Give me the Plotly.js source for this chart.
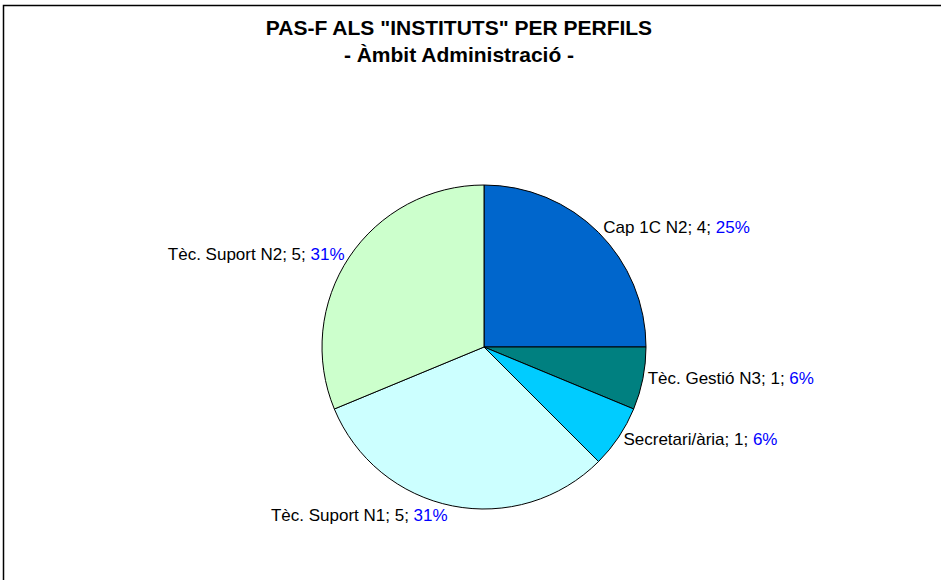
<!DOCTYPE html>
<html>
<head>
<meta charset="utf-8">
<script src="https://cdn.plot.ly/plotly-3.0.1.min.js"></script>
<style>html,body{margin:0;padding:0;background:#fff;}#chart{width:941px;height:580px;}</style>
</head>
<body>
<div id="chart"></div>
<script>
const categories = ["Cap 1C N2", "Tèc. Gestió N3", "Secretari/ària", "Tèc. Suport N1", "Tèc. Suport N2"];
const values = [4, 1, 1, 5, 5];
const colors = ["#0066CC", "#008080", "#00CCFF", "#CCFFFF", "#CCFFCC"];
const titleText = "<b>PAS-F ALS \"INSTITUTS\" PER PERFILS<br>- Àmbit Administració -</b>";

const W = 941, H = 580;
const data = [{
  type: "pie",
  labels: categories,
  values: values,
  sort: false,
  direction: "clockwise",
  rotation: 0,
  marker: {colors: colors, line: {color: "#000000", width: 1}},
  textposition: "outside",
  texttemplate: "%{label}; %{value}; <span style='color:#0000FF'>%{percent:.0%}</span>",
  textfont: {family: "Liberation Sans, Arial, sans-serif", size: 17, color: "#000000"},
  hoverinfo: "none",
  domain: {x: [322/W, 646/W], y: [1 - 509/H, 1 - 185/H]}
}];

const layout = {
  width: W, height: H,
  margin: {l: 0, r: 0, t: 0, b: 0},
  paper_bgcolor: "#ffffff",
  showlegend: false,
  title: {
    text: titleText,
    font: {family: "Liberation Sans, Arial, sans-serif", size: 21, color: "#000000"},
    x: 459/W, xanchor: "center",
    y: 1 - 35/H, yanchor: "middle",
    xref: "paper", yref: "paper"
  },
  shapes: [{
    type: "rect", xref: "paper", yref: "paper",
    x0: 3.5/W, x1: 1.05, y0: -0.05, y1: 1 - 5.5/H,
    line: {color: "#000000", width: 1.5}, fillcolor: "rgba(0,0,0,0)"
  }]
};

Plotly.newPlot("chart", data, layout, {displayModeBar: false, staticPlot: true});
</script>
</body>
</html>
